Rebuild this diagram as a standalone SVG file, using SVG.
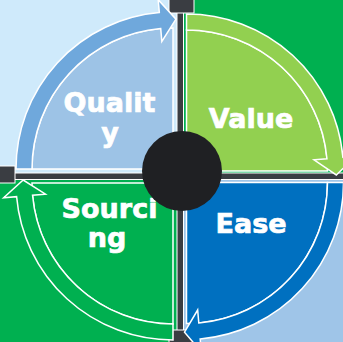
<svg xmlns="http://www.w3.org/2000/svg" width="343" height="342" viewBox="0 0 343 342">
  <style>
    .edge { stroke: #ffffff; stroke-width: 1.5; stroke-linejoin: miter; }
    .bar { fill: #3a3d42; stroke: #ffffff; stroke-width: 1; }
    .label { font-family: "DejaVu Sans", "Liberation Sans", sans-serif; font-weight: bold; font-size: 27px; fill: #ffffff; stroke: #ffffff; stroke-width: 0.7; text-anchor: middle; }
  </style>

  <!-- quadrant backgrounds -->
  <g id="backgrounds">
    <rect x="0" y="0" width="180" height="176" fill="#cfeafb"/>
    <rect x="180" y="0" width="163" height="176" fill="#00b050"/>
    <rect x="0" y="176" width="180" height="166" fill="#00b050"/>
    <rect x="180" y="176" width="163" height="166" fill="#9fc5e8"/>
  </g>

  <!-- dividing cross with end caps -->
  <g id="divider">
    <rect class="bar" x="177" y="-2" width="6.5" height="346"/>
    <rect class="bar" x="-2" y="173" width="347" height="6.5"/>
    <rect class="bar" x="169" y="-1" width="25" height="14"/>
    <rect class="bar" x="-1" y="166" width="16" height="17"/>
    <rect class="bar" x="169" y="330" width="25" height="13"/>
  </g>

  <g id="quality">
    <path class="edge" fill="#9dc3e6" d="M173,169 L32,169 A141,141 0 0 1 173,28 Z"/>
    <text class="label" x="109.5" y="112">Qualit</text>
    <text class="label" x="110" y="142">y</text>
  </g>

  <g id="value">
    <path class="edge" fill="#92d050" d="M186.5,171 L186.5,30 A141,141 0 0 1 327.5,171 Z"/>
    <text class="label" x="251" y="128">Value</text>
  </g>

  <g id="ease">
    <path class="edge" fill="#0070c0" d="M186.5,182.5 L327.5,182.5 A141,141 0 0 1 186.5,323.5 Z"/>
    <text class="label" x="251" y="233">Ease</text>
  </g>

  <g id="sourcing">
    <path class="edge" fill="#00b050" d="M173,183 L173,324 A141,141 0 0 1 32,183 Z"/>
    <text class="label" x="109.5" y="217.5">Sourci</text>
    <text class="label" x="107" y="247">ng</text>
  </g>

  <!-- cycle arrows -->
  <g id="connectors">
    <path class="edge" fill="#6fa8dc" d="M16,169 A157,157 0 0 1 159.32,12.6 L158.18,-0.35 L175.95,19.18 L161.84,41.49 L160.71,28.54 A141,141 0 0 0 32,169 Z"/>
    <path class="edge" fill="#92d050" d="M186.5,14 A157,157 0 0 1 342.9,157.32 L355.85,156.18 L336.32,174.95 L314.01,159.84 L326.96,158.71 A141,141 0 0 0 186.5,30 Z"/>
    <path class="edge" fill="#0070c0" d="M343.5,182.5 A157,157 0 0 1 200.18,338.9 L201.32,351.85 L184.5,332.2 L197.66,310.01 L198.79,322.96 A141,141 0 0 0 327.5,182.5 Z"/>
    <path class="edge" fill="#00b050" d="M173,340 A157,157 0 0 1 16.6,196.68 L3.65,197.82 L23.18,180.05 L45.49,194.16 L32.54,195.29 A141,141 0 0 0 173,324 Z"/>
  </g>

  <g id="hub">
    <circle cx="182" cy="171" r="40" fill="#1f2023"/>
  </g>
</svg>
